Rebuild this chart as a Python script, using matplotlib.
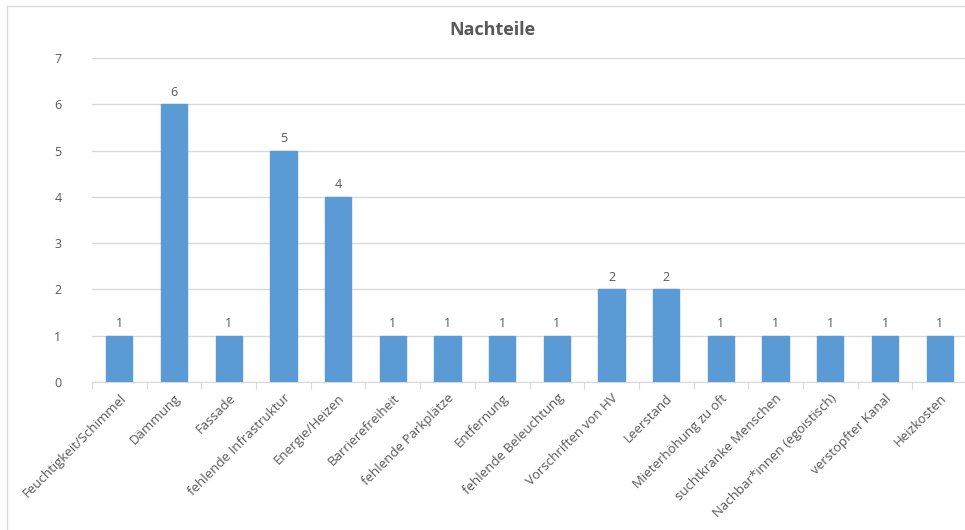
import matplotlib
matplotlib.use("Agg")
import matplotlib.pyplot as plt
from matplotlib.lines import Line2D

categories = ["Feuchtigkeit/Schimmel", "Dämmung", "Fassade", "fehlende Infrastruktur",
              "Energie/Heizen", "Barrierefreiheit", "fehlende Parkplätze", "Entfernung",
              "fehlende Beleuchtung", "Vorschriften von HV", "Leerstand",
              "Mieterhöhung zu oft", "suchtkranke Menschen", "Nachbar*innen (egoistisch)",
              "verstopfter Kanal", "Heizkosten"]
values = [1, 6, 1, 5, 4, 1, 1, 1, 1, 2, 2, 1, 1, 1, 1, 1]
yticks = [0, 1, 2, 3, 4, 5, 6, 7]

plt.rcParams['font.family'] = ['Open Sans', 'DejaVu Sans']
W, H = 965, 530
fig = plt.figure(figsize=(W/100, H/100), dpi=100)
ax = fig.add_axes([92/W, 1-382/H, (967-92)/W, (382-58)/H])

text_c = "#595959"
grid_c = "#d9d9d9"
x = list(range(len(categories)))
bars = ax.bar(x, values, width=0.48, color="#5B9BD5", edgecolor="#5B9BD5", zorder=3)
for xi, v in zip(x, values):
    ax.text(xi, v + 0.12, str(v), ha="center", va="bottom", fontsize=9, color=text_c)

ax.set_xlim(-0.5, len(categories) - 0.5)
ax.set_ylim(0, 7)
ax.set_yticks(yticks)
ax.set_yticklabels([str(t) for t in yticks], fontsize=9, color=text_c)
ax.yaxis.grid(True, color=grid_c, linewidth=1, zorder=0)
ax.set_axisbelow(True)
ax.tick_params(axis="y", length=0, pad=22)
ax.set_xticks([i - 0.5 for i in x], minor=False)
ax.set_xticklabels([])
ax.tick_params(axis="x", length=5, color=grid_c, direction="out")
ax.set_xticks(x, minor=True)
ax.set_xticklabels(categories, minor=True, rotation=45, ha="right", rotation_mode="anchor",
                   fontsize=9.5, color=text_c)
ax.tick_params(axis="x", which="minor", length=0, pad=7)
for s in ["top", "right", "left"]:
    ax.spines[s].set_visible(False)
ax.spines["bottom"].set_color(grid_c)

fig.text(492/W, 1-30/H, "Nachteile", ha="center", va="center", fontsize=13,
         fontweight="bold", color=text_c)

fig.add_artist(Line2D([7/W, 7/W], [0, 1-6/H], color=grid_c, linewidth=1, transform=fig.transFigure))
fig.add_artist(Line2D([7/W, 1], [1-6/H, 1-6/H], color=grid_c, linewidth=1, transform=fig.transFigure))

fig.savefig("out.png", dpi=100)
